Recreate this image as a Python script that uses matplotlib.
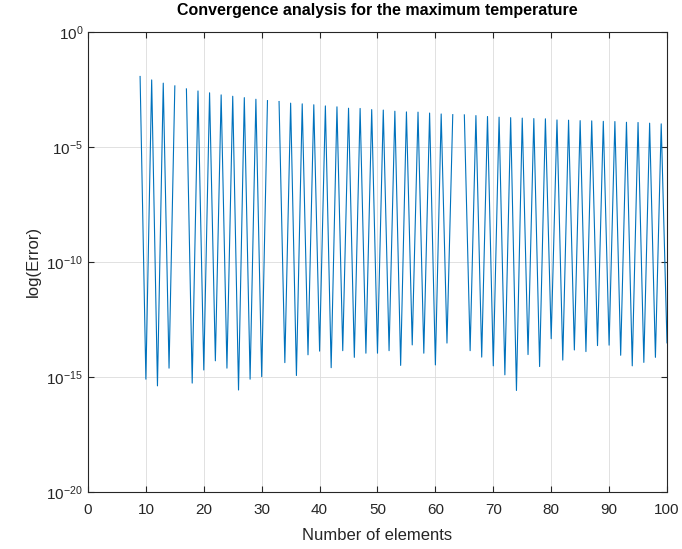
import numpy as np
import matplotlib
matplotlib.use("Agg")
import matplotlib.pyplot as plt
from matplotlib.ticker import FixedLocator, NullLocator, LogFormatterSciNotation

# Number of elements
n_elements = list(range(9, 101))

# log10 of error at odd N (peaks) and even N (troughs); None = exact zero error
peak_log = {
    9: -1.94, 11: -2.09, 13: -2.23, 15: -2.35, 17: -2.48, 19: -2.57, 21: -2.65,
    23: -2.74, 25: -2.80, 27: -2.86, 29: -2.93, 31: -2.99, 33: -3.03, 35: -3.10,
    37: -3.13, 39: -3.17, 41: -3.22, 43: -3.26, 45: -3.32, 47: -3.33, 49: -3.38,
    51: -3.40, 53: -3.45, 55: -3.48, 57: -3.49, 59: -3.53, 61: -3.57, 63: -3.60,
    65: -3.61, 67: -3.64, 69: -3.68, 71: -3.71, 73: -3.73, 75: -3.75, 77: -3.77,
    79: -3.78, 81: -3.83, 83: -3.84, 85: -3.86, 87: -3.87, 89: -3.89, 91: -3.90,
    93: -3.93, 95: -3.94, 97: -3.97, 99: -4.00,
}
trough_log = {
    10: -15.10, 12: -15.39, 14: -14.62, 16: None, 18: -15.27, 20: -14.70,
    22: -14.30, 24: -14.62, 26: -15.57, 28: -15.10, 30: -14.99, 32: None,
    34: -14.38, 36: -14.94, 38: -14.04, 40: -13.88, 42: -14.60, 44: -13.86,
    46: -14.15, 48: -13.97, 50: -13.97, 52: -13.86, 54: -14.50, 56: -13.61,
    58: -13.97, 60: -14.48, 62: -13.53, 64: None, 66: -13.86, 68: -14.14,
    70: -14.52, 72: -14.91, 74: -15.59, 76: -14.03, 78: -14.55, 80: -13.34,
    82: -14.27, 84: -13.83, 86: -13.90, 88: -13.64, 90: -13.62, 92: -14.06,
    94: -14.52, 96: -14.37, 98: -14.15, 100: -13.52,
}

x_ticks = list(range(0, 101, 10))
y_ticks = [1e0, 1e-5, 1e-10, 1e-15, 1e-20]

title = "Convergence analysis for the maximum temperature"
xlabel = "Number of elements"
ylabel = "log(Error)"

# Build error series (zeros are dropped on a log axis, as MATLAB does)
all_log = {**peak_log, **trough_log}
error = []
for n in n_elements:
    v = all_log[n]
    error.append(0.0 if v is None else 10.0 ** v)
error = np.array(error)
error_plot = np.where(error > 0, error, np.nan)

plt.rcParams['font.family'] = ['Liberation Sans', 'DejaVu Sans']
plt.rcParams['mathtext.fontset'] = 'custom'
plt.rcParams['mathtext.rm'] = 'Liberation Sans'
plt.rcParams['mathtext.it'] = 'Liberation Sans:italic'
axcol = '#262626'

fig = plt.figure(figsize=(6.82, 5.49), dpi=100)
ax = fig.add_axes([0.129, 0.104, 0.849, 0.838])
ax.plot(n_elements, error_plot, color='#0072BD', lw=0.8)
ax.set_yscale('log')
ax.set_xlim(0, 100)
ax.set_ylim(1e-20, 1e0)
ax.xaxis.set_major_locator(FixedLocator(x_ticks))
ax.yaxis.set_major_locator(FixedLocator(y_ticks))
ax.yaxis.set_major_formatter(LogFormatterSciNotation())
ax.yaxis.set_minor_locator(NullLocator())
ax.xaxis.set_minor_locator(NullLocator())
ax.grid(True, color='#dcdcdc', lw=0.6)
ax.set_axisbelow(True)
ax.tick_params(direction='in', top=True, right=True, length=4, width=0.8,
               colors=axcol, labelsize=11)
ax.tick_params(axis='x', pad=8)
for sp in ax.spines.values():
    sp.set_color(axcol)
    sp.set_linewidth(0.8)
ax.set_title(title, fontsize=11.5, fontweight='bold', color='black', pad=12)
ax.set_xlabel(xlabel, fontsize=12, color=axcol, labelpad=8)
ax.set_ylabel(ylabel, fontsize=12, color=axcol, labelpad=4)

fig.savefig('out.png', dpi=100)
